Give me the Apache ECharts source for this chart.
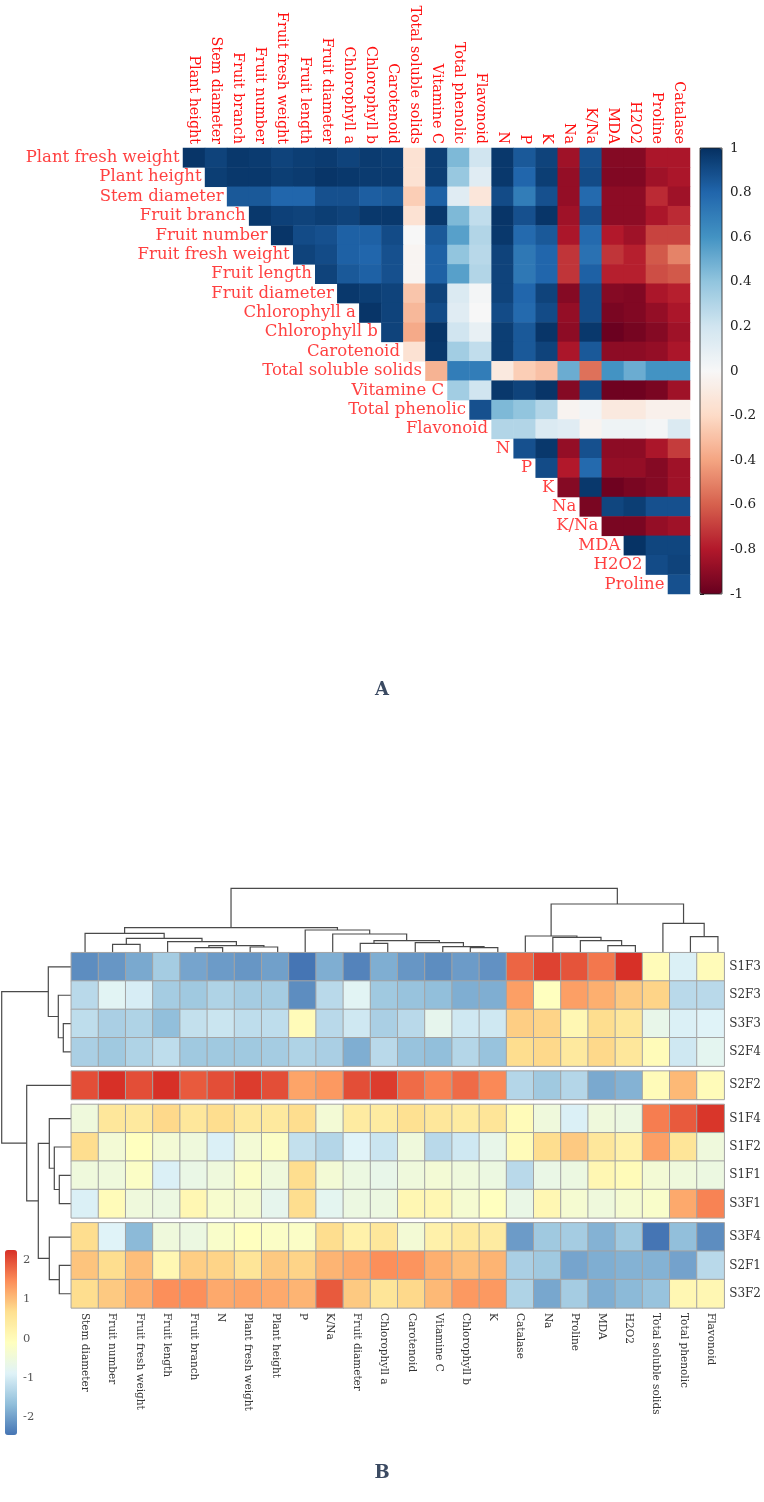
<!DOCTYPE html>
<html>
<head>
<meta charset="utf-8">
<script src="https://cdn.jsdelivr.net/npm/echarts@6/dist/echarts.min.js"></script>
<style>
html,body{margin:0;padding:0;background:#fff}
#main{width:764px;height:1502px}
</style>
</head>
<body>
<div id="main"></div>
<script>
// ---------- A: correlation matrix (upper triangle) ----------
var corrCols = ['Plant height','Stem diameter','Fruit branch','Fruit number','Fruit fresh weight','Fruit length','Fruit diameter','Chlorophyll a','Chlorophyll b','Carotenoid','Total soluble solids','Vitamine C','Total phenolic','Flavonoid','N','P','K','Na','K/Na','MDA','H2O2','Proline','Catalase'];
var corrRowNames = ['Plant fresh weight','Plant height','Stem diameter','Fruit branch','Fruit number','Fruit fresh weight','Fruit length','Fruit diameter','Chlorophyll a','Chlorophyll b','Carotenoid','Total soluble solids','Vitamine C','Total phenolic','Flavonoid','N','P','K','Na','K/Na','MDA','H2O2','Proline'];
// row i holds the values of columns i..22
var corrRows = [
  [0.98,0.93,0.97,0.96,0.93,0.95,0.96,0.93,0.96,0.95,-0.15,0.95,0.45,0.2,0.97,0.85,0.93,-0.85,0.88,-0.92,-0.92,-0.82,-0.82],
  [0.95,0.97,0.97,0.95,0.96,0.98,0.97,0.96,0.96,-0.15,0.95,0.38,0.12,0.97,0.8,0.95,-0.88,0.9,-0.93,-0.93,-0.85,-0.82],
  [0.85,0.85,0.8,0.8,0.88,0.88,0.83,0.85,-0.25,0.82,0.12,-0.12,0.9,0.7,0.88,-0.88,0.78,-0.9,-0.9,-0.75,-0.85],
  [0.97,0.94,0.93,0.95,0.93,0.97,0.97,-0.15,0.97,0.45,0.25,0.98,0.88,0.98,-0.85,0.88,-0.9,-0.9,-0.82,-0.75],
  [0.98,0.9,0.88,0.82,0.82,0.9,0.0,0.85,0.55,0.3,0.97,0.78,0.85,-0.82,0.78,-0.8,-0.85,-0.68,-0.68],
  [0.93,0.9,0.82,0.8,0.88,-0.02,0.82,0.4,0.28,0.93,0.72,0.8,-0.72,0.75,-0.72,-0.78,-0.62,-0.5],
  [0.93,0.85,0.82,0.88,-0.02,0.82,0.55,0.3,0.93,0.72,0.8,-0.72,0.82,-0.78,-0.78,-0.65,-0.62],
  [0.97,0.95,0.93,-0.28,0.93,0.15,0.02,0.93,0.8,0.93,-0.92,0.9,-0.92,-0.93,-0.82,-0.78],
  [0.98,0.93,-0.33,0.9,0.12,0.0,0.9,0.78,0.9,-0.88,0.9,-0.95,-0.93,-0.88,-0.82],
  [0.93,-0.38,0.98,0.2,0.08,0.95,0.85,0.98,-0.9,0.97,-0.99,-0.96,-0.92,-0.85],
  [-0.15,0.97,0.35,0.25,0.95,0.85,0.93,-0.82,0.85,-0.9,-0.9,-0.88,-0.82],
  [-0.35,0.7,0.7,-0.1,-0.25,-0.3,0.5,-0.55,0.6,0.5,0.6,0.6],
  [0.35,0.2,0.97,0.93,0.98,-0.92,0.9,-0.98,-0.98,-0.95,-0.85],
  [0.88,0.45,0.4,0.3,-0.03,0.03,-0.1,-0.1,-0.05,-0.05],
  [0.3,0.3,0.15,0.12,-0.03,0.05,0.05,0.02,0.15],
  [0.88,0.97,-0.88,0.88,-0.9,-0.9,-0.82,-0.7],
  [0.9,-0.8,0.78,-0.88,-0.88,-0.92,-0.85],
  [-0.92,0.97,-0.98,-0.95,-0.92,-0.85],
  [-0.95,0.92,0.95,0.88,0.88],
  [-0.95,-0.95,-0.88,-0.85],
  [0.99,0.92,0.92],
  [0.9,0.93],
  [0.88]
];
var corrTicks = [-1, 1, 0.2];
var rdbuColors = ['#67001f','#b2182b','#d6604d','#f4a582','#fddbc7','#f7f7f7','#d1e5f0','#92c5de','#4393c3','#2166ac','#053061'];

// ---------- B: clustered heatmap ----------
var heatCols = ['Stem diameter','Fruit number','Fruit fresh weight','Fruit length','Fruit branch','N','Plant fresh weight','Plant height','P','K/Na','Fruit diameter','Chlorophyll a','Carotenoid','Vitamine C','Chlorophyll b','K','Catalase','Na','Proline','MDA','H2O2','Total soluble solids','Total phenolic','Flavonoid'];
var samples = ['S1F3','S2F3','S3F3','S2F4','S2F2','S1F4','S1F2','S1F1','S3F1','S3F4','S2F1','S3F2'];
var groupSizes = [4,1,4,3];
var zS1F3 = [-2.2,-2.1,-1.9,-1.47,-1.95,-2.05,-2.1,-2.0,-2.45,-1.85,-2.3,-1.85,-2.1,-2.2,-2.05,-2.15,1.8,2.1,1.95,1.65,2.25,0.0,-0.93,0.0];
var zS2F3 = [-1.27,-0.83,-0.97,-1.47,-1.52,-1.37,-1.47,-1.47,-2.2,-1.27,-0.83,-1.52,-1.6,-1.66,-1.85,-1.85,1.3,-0.1,1.3,1.15,0.9,0.8,-1.27,-1.27];
var zS3F3 = [-1.22,-1.42,-1.37,-1.66,-1.17,-1.1,-1.22,-1.22,0.0,-1.27,-1.05,-1.42,-1.27,-0.73,-1.05,-1.05,0.85,0.8,0.1,0.7,0.5,-0.68,-0.93,-0.88];
var zS2F4 = [-1.42,-1.52,-1.37,-1.22,-1.52,-1.52,-1.52,-1.47,-1.37,-1.42,-1.85,-1.27,-1.6,-1.66,-1.32,-1.6,0.7,0.75,0.45,0.75,0.5,0.0,-1.05,-0.78];
var zS2F2 = [2.0,2.3,2.0,2.3,1.9,2.0,2.15,2.0,1.25,1.35,2.0,2.15,1.75,1.55,1.75,1.5,-1.32,-1.52,-1.32,-1.9,-1.8,0.0,1.05,0.0];
var zS1F4 = [-0.5,0.5,0.45,0.75,0.5,0.7,0.45,0.45,0.7,-0.4,0.4,0.4,0.65,0.5,0.4,0.55,0.0,-0.5,-0.93,-0.5,-0.57,1.6,1.9,2.2];
var zS1F2 = [0.7,-0.4,-0.1,-0.4,-0.5,-0.93,-0.4,-0.2,-1.17,-1.32,-0.88,-1.1,-0.5,-1.27,-1.05,-0.68,0.0,0.7,0.9,0.5,0.25,1.3,0.55,-0.5];
var zS1F1 = [-0.5,-0.5,-0.2,-0.93,-0.63,-0.5,-0.2,-0.5,0.7,-0.4,-0.57,-0.68,-0.5,-0.4,-0.5,-0.57,-1.27,-0.63,-0.57,0.1,0.0,-0.4,-0.5,-0.57];
var zS3F1 = [-0.93,0.0,-0.5,-0.57,0.1,-0.3,-0.35,-0.73,0.7,-0.78,-0.57,-0.57,0.1,0.1,-0.35,-0.1,-0.63,0.1,-0.35,-0.5,-0.35,-0.25,1.2,1.55];
var zS3F4 = [0.7,-0.88,-1.72,-0.5,-0.57,-0.25,-0.1,-0.2,-0.2,0.7,0.25,0.5,-0.4,0.25,0.45,0.4,-2.05,-1.52,-1.47,-1.8,-1.52,-2.45,-1.66,-2.2];
var zS2F1 = [0.95,0.7,1.0,0.1,0.85,0.8,0.55,0.9,0.8,1.1,1.2,1.45,1.4,1.15,1.0,1.1,-1.42,-1.52,-1.95,-1.85,-1.8,-1.8,-1.97,-1.27];
var zS3F2 = [0.7,0.9,1.15,1.45,1.45,1.2,1.25,1.2,1.1,1.9,0.9,0.55,0.75,1.05,1.35,1.35,-1.37,-1.92,-1.47,-1.85,-1.72,-1.6,0.1,0.1];
var sampleValues = [zS1F3,zS2F3,zS3F3,zS2F4,zS2F2,zS1F4,zS1F2,zS1F1,zS3F1,zS3F4,zS2F1,zS3F2];
var heatRange = [-2.45, 2.25];
var heatTicks = [-2,-1,0,1,2];
var heatColors = ['#4575b4','#91bfdb','#e0f3f8','#ffffbf','#fee090','#fc8d59','#d73027'];

// dendrograms: [a, b, height]; a,b < n are leaves (display order), >= n are earlier merges
var colMerges = [
  [1,2,8.4],[4,5,5],[6,7,5.7],[25,26,7],[3,27,11],[24,28,14.4],[0,29,19.4],
  [10,11,9.4],[14,15,5],[13,32,6],[12,33,10],[31,34,12],[9,35,18.7],[8,36,22.7],[30,37,25],
  [19,20,7],[18,39,12],[17,40,15.4],[16,41,16.7],[22,23,16],[21,43,29.4],[42,44,48.7],
  [38,45,64.4]
];
var rowMerges = [
  [2,3,8],[1,12,13],[0,13,23],
  [7,8,12],[6,15,17],[5,16,22],
  [10,11,12],[9,18,22],
  [17,19,33],[4,20,44.6],[14,21,69.6]
];

// ---------- layout ----------
var corrBox = {left:183, top:148, width:507, height:446};
var heatLeft = 71.3, heatWidth = 660.4, heatTop = 952.7, rowH = 28.35, gapH = 5;
var serif = 'DejaVu Serif';

function dendroSegments(merges, leafPos){
  var n = leafPos.length;
  var pos = leafPos.slice(), hgt = leafPos.map(function(){ return 0; });
  var segs = [];
  for (var k = 0; k < merges.length; k++) {
    var a = merges[k][0], b = merges[k][1], h = merges[k][2];
    segs.push([pos[a], pos[b], hgt[a], hgt[b], h]);
    pos[n + k] = (pos[a] + pos[b]) / 2;
    hgt[n + k] = h;
  }
  return segs;
}

var chart = echarts.init(document.getElementById('main'));

var grids = [], xAxes = [], yAxes = [], series = [];

// grid 0: correlation heatmap
grids.push({left:corrBox.left, top:corrBox.top, width:corrBox.width, height:corrBox.height});
xAxes.push({gridIndex:0, type:'category', data:corrCols, position:'top',
  axisLine:{show:false}, axisTick:{show:false}, splitLine:{show:false},
  axisLabel:{rotate:90, interval:0, margin:4, color:'#ff1010', fontFamily:serif, fontSize:14.3}});
yAxes.push({gridIndex:0, type:'category', data:corrRowNames, inverse:true, show:false});
var corrData = [];
for (var i = 0; i < corrRows.length; i++) {
  for (var j = 0; j < corrRows[i].length; j++) {
    corrData.push([i + j, i, corrRows[i][j]]);
  }
}
series.push({type:'heatmap', xAxisIndex:0, yAxisIndex:0, data:corrData, silent:true});
// staircase row labels, placed next to the first cell of each row
series.push({type:'scatter', xAxisIndex:0, yAxisIndex:0, symbolSize:1, silent:true,
  itemStyle:{color:'rgba(0,0,0,0)'},
  data:corrRowNames.map(function(n, i){ return [i, i, n]; }),
  label:{show:true, position:'left', distance:14, color:'#ff1010', fontFamily:serif, fontSize:16.5,
    formatter:function(p){ return p.data[2]; }}});

// grid 1: colour bar axis for A
grids.push({left:700, top:corrBox.top, width:22, height:corrBox.height, show:true,
  borderColor:'#222', borderWidth:0.8, backgroundColor:'rgba(0,0,0,0)', z:10});
xAxes.push({gridIndex:1, type:'value', show:false});
yAxes.push({gridIndex:1, type:'value', min:corrTicks[0], max:corrTicks[1], interval:corrTicks[2], position:'right',
  axisLine:{show:false}, splitLine:{show:false},
  axisTick:{show:true, length:4, lineStyle:{color:'#222'}},
  axisLabel:{margin:8, color:'#222', fontSize:13.5, fontFamily:serif}});

// grid 2: column dendrogram
var colLeaf = heatCols.map(function(c, i){ return i + 0.5; });
var colRoot = colMerges[colMerges.length - 1][2];
grids.push({left:heatLeft, top:heatTop - colRoot, width:heatWidth, height:colRoot});
xAxes.push({gridIndex:2, type:'value', min:0, max:heatCols.length, show:false});
yAxes.push({gridIndex:2, type:'value', min:0, max:colRoot, show:false});
series.push({type:'custom', xAxisIndex:2, yAxisIndex:2, silent:true,
  data:dendroSegments(colMerges, colLeaf), encode:{x:[0,1], y:[2,3,4]},
  renderItem:function(params, api){
    var a = api.value(0), b = api.value(1), ha = api.value(2), hb = api.value(3), h = api.value(4);
    return {type:'polyline', shape:{points:[api.coord([a,ha]), api.coord([a,h]), api.coord([b,h]), api.coord([b,hb])]},
      style:{stroke:'#4a4a4a', lineWidth:1.2, fill:null}};
  }});

// grid 3: row dendrogram (rows split into groups with gaps)
var gapU = gapH / rowH;
var rowGroup = [];
groupSizes.forEach(function(s, g){ for (var k = 0; k < s; k++) rowGroup.push(g); });
var rowLeaf = samples.map(function(s, i){ return i + 0.5 + rowGroup[i] * gapU; });
var rowSpan = samples.length + (groupSizes.length - 1) * gapU;
var rowRoot = rowMerges[rowMerges.length - 1][2];
grids.push({left:heatLeft - rowRoot, top:heatTop, width:rowRoot, height:rowSpan * rowH});
xAxes.push({gridIndex:3, type:'value', min:0, max:rowRoot, inverse:true, show:false});
yAxes.push({gridIndex:3, type:'value', min:0, max:rowSpan, inverse:true, show:false});
series.push({type:'custom', xAxisIndex:3, yAxisIndex:3, silent:true,
  data:dendroSegments(rowMerges, rowLeaf), encode:{y:[0,1], x:[2,3,4]},
  renderItem:function(params, api){
    var a = api.value(0), b = api.value(1), ha = api.value(2), hb = api.value(3), h = api.value(4);
    return {type:'polyline', shape:{points:[api.coord([ha,a]), api.coord([h,a]), api.coord([h,b]), api.coord([hb,b])]},
      style:{stroke:'#4a4a4a', lineWidth:1.2, fill:null}};
  }});

// grids 4..7: heatmap row groups
var heatSeriesIdx = [];
var start = 0;
groupSizes.forEach(function(size, g){
  var gi = grids.length;
  var last = g === groupSizes.length - 1;
  grids.push({left:heatLeft, width:heatWidth, top:heatTop + start * rowH + g * gapH, height:size * rowH});
  xAxes.push({gridIndex:gi, type:'category', data:heatCols, show:last,
    axisLine:{show:false}, axisTick:{show:false}, splitLine:{show:false},
    axisLabel:{rotate:-90, interval:0, margin:5, color:'#333', fontFamily:serif, fontSize:10.5}});
  yAxes.push({gridIndex:gi, type:'category', data:samples.slice(start, start + size), inverse:true, position:'right',
    axisLine:{show:false}, axisTick:{show:false}, splitLine:{show:false},
    axisLabel:{margin:5, color:'#333', fontFamily:serif, fontSize:12}});
  var d = [];
  for (var r = 0; r < size; r++) {
    var vals = sampleValues[start + r];
    for (var c = 0; c < vals.length; c++) d.push([c, r, vals[c]]);
  }
  heatSeriesIdx.push(series.length);
  series.push({type:'heatmap', xAxisIndex:gi, yAxisIndex:gi, data:d, silent:true,
    itemStyle:{borderColor:'#a3a3a3', borderWidth:1}});
  start += size;
});

// grid 8: colour bar axis for B
var hbGrid = grids.length;
grids.push({left:5, top:1250, width:12, height:185});
xAxes.push({gridIndex:hbGrid, type:'value', show:false});
yAxes.push({gridIndex:hbGrid, type:'value', min:heatRange[0], max:heatRange[1], position:'right',
  axisLine:{show:false}, splitLine:{show:false}, axisTick:{show:false},
  axisLabel:{margin:6, color:'#555', fontSize:11.5, fontFamily:serif, customValues:heatTicks}});

var option = {
  backgroundColor:'#fff',
  animation:false,
  title:[
    {text:'A', left:'center', top:676, textStyle:{fontFamily:serif, fontWeight:'bold', fontSize:18, color:'#3b4a62'}},
    {text:'B', left:'center', top:1459, textStyle:{fontFamily:serif, fontWeight:'bold', fontSize:18, color:'#3b4a62'}}
  ],
  grid:grids,
  xAxis:xAxes,
  yAxis:yAxes,
  visualMap:[
    {type:'continuous', seriesIndex:0, min:-1, max:1, calculable:false, hoverLink:false,
      orient:'vertical', left:700, top:corrBox.top, itemWidth:22, itemHeight:corrBox.height,
      padding:0, text:null, showLabel:false, z:1, inRange:{color:rdbuColors}},
    {type:'continuous', seriesIndex:heatSeriesIdx, min:heatRange[0], max:heatRange[1], calculable:false, hoverLink:false,
      orient:'vertical', left:5, top:1250, itemWidth:12, itemHeight:185,
      padding:0, text:null, showLabel:false, z:1, inRange:{color:heatColors}}
  ],
  series:series
};
chart.setOption(option);
</script>
</body>
</html>
